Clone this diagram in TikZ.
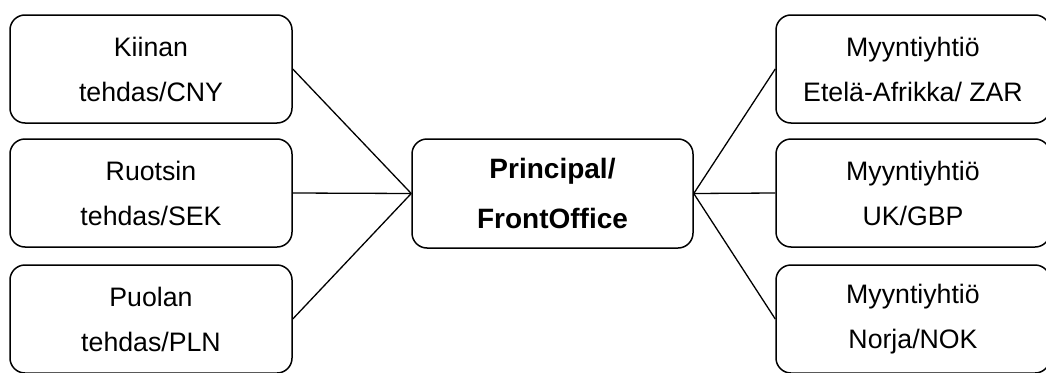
\documentclass[tikz,border=0pt]{standalone}
\usepackage{fontspec}
\setmainfont{Liberation Sans}
\begin{document}
\begin{tikzpicture}[x=1pt,y=-1pt,
  box/.style={draw=black, line width=1.5pt, rounded corners=15pt, rectangle,
    inner sep=0pt, align=center, font=\fontsize{26.7pt}{45pt}\selectfont},
  sidebox/.style={box, minimum width=282pt, minimum height=108pt},
  rbox/.style={box, minimum width=274pt, minimum height=108pt},
  mainbox/.style={box, minimum width=281pt, minimum height=109pt,
    font=\fontsize{28pt}{50pt}\selectfont\bfseries},
  link/.style={draw=black, line width=1.3pt}]
\useasboundingbox (0,0) rectangle (1046,372);
\clip (0,0) rectangle (1046,372);
\fill[white] (0,0) rectangle (1046,372);
\node[sidebox] (l1) at (151,69) {Kiinan\\tehdas/CNY};
\node[sidebox] (l2) at (151,193) {Ruotsin\\tehdas/SEK};
\node[sidebox] (l3) at (151,319) {Puolan\\tehdas/PLN};
\node[mainbox] (c) at (552.5,193.5) {Principal/\\FrontOffice};
\node[rbox] (r1) at (913,69) {Myyntiyhtiö\\Etelä-Afrikka/ ZAR};
\node[rbox] (r2) at (913,193) {Myyntiyhtiö\\UK/GBP};
\node[rbox] (r3) at (913,319) {Myyntiyhtiö\\Norja/NOK};
\draw[link] (l1.east) -- (c.west);
\draw[link] (l2.east) -- (c.west);
\draw[link] (l3.east) -- (c.west);
\draw[link] (r1.west) -- (c.east);
\draw[link] (r2.west) -- (c.east);
\draw[link] (r3.west) -- (c.east);
\end{tikzpicture}
\end{document}
